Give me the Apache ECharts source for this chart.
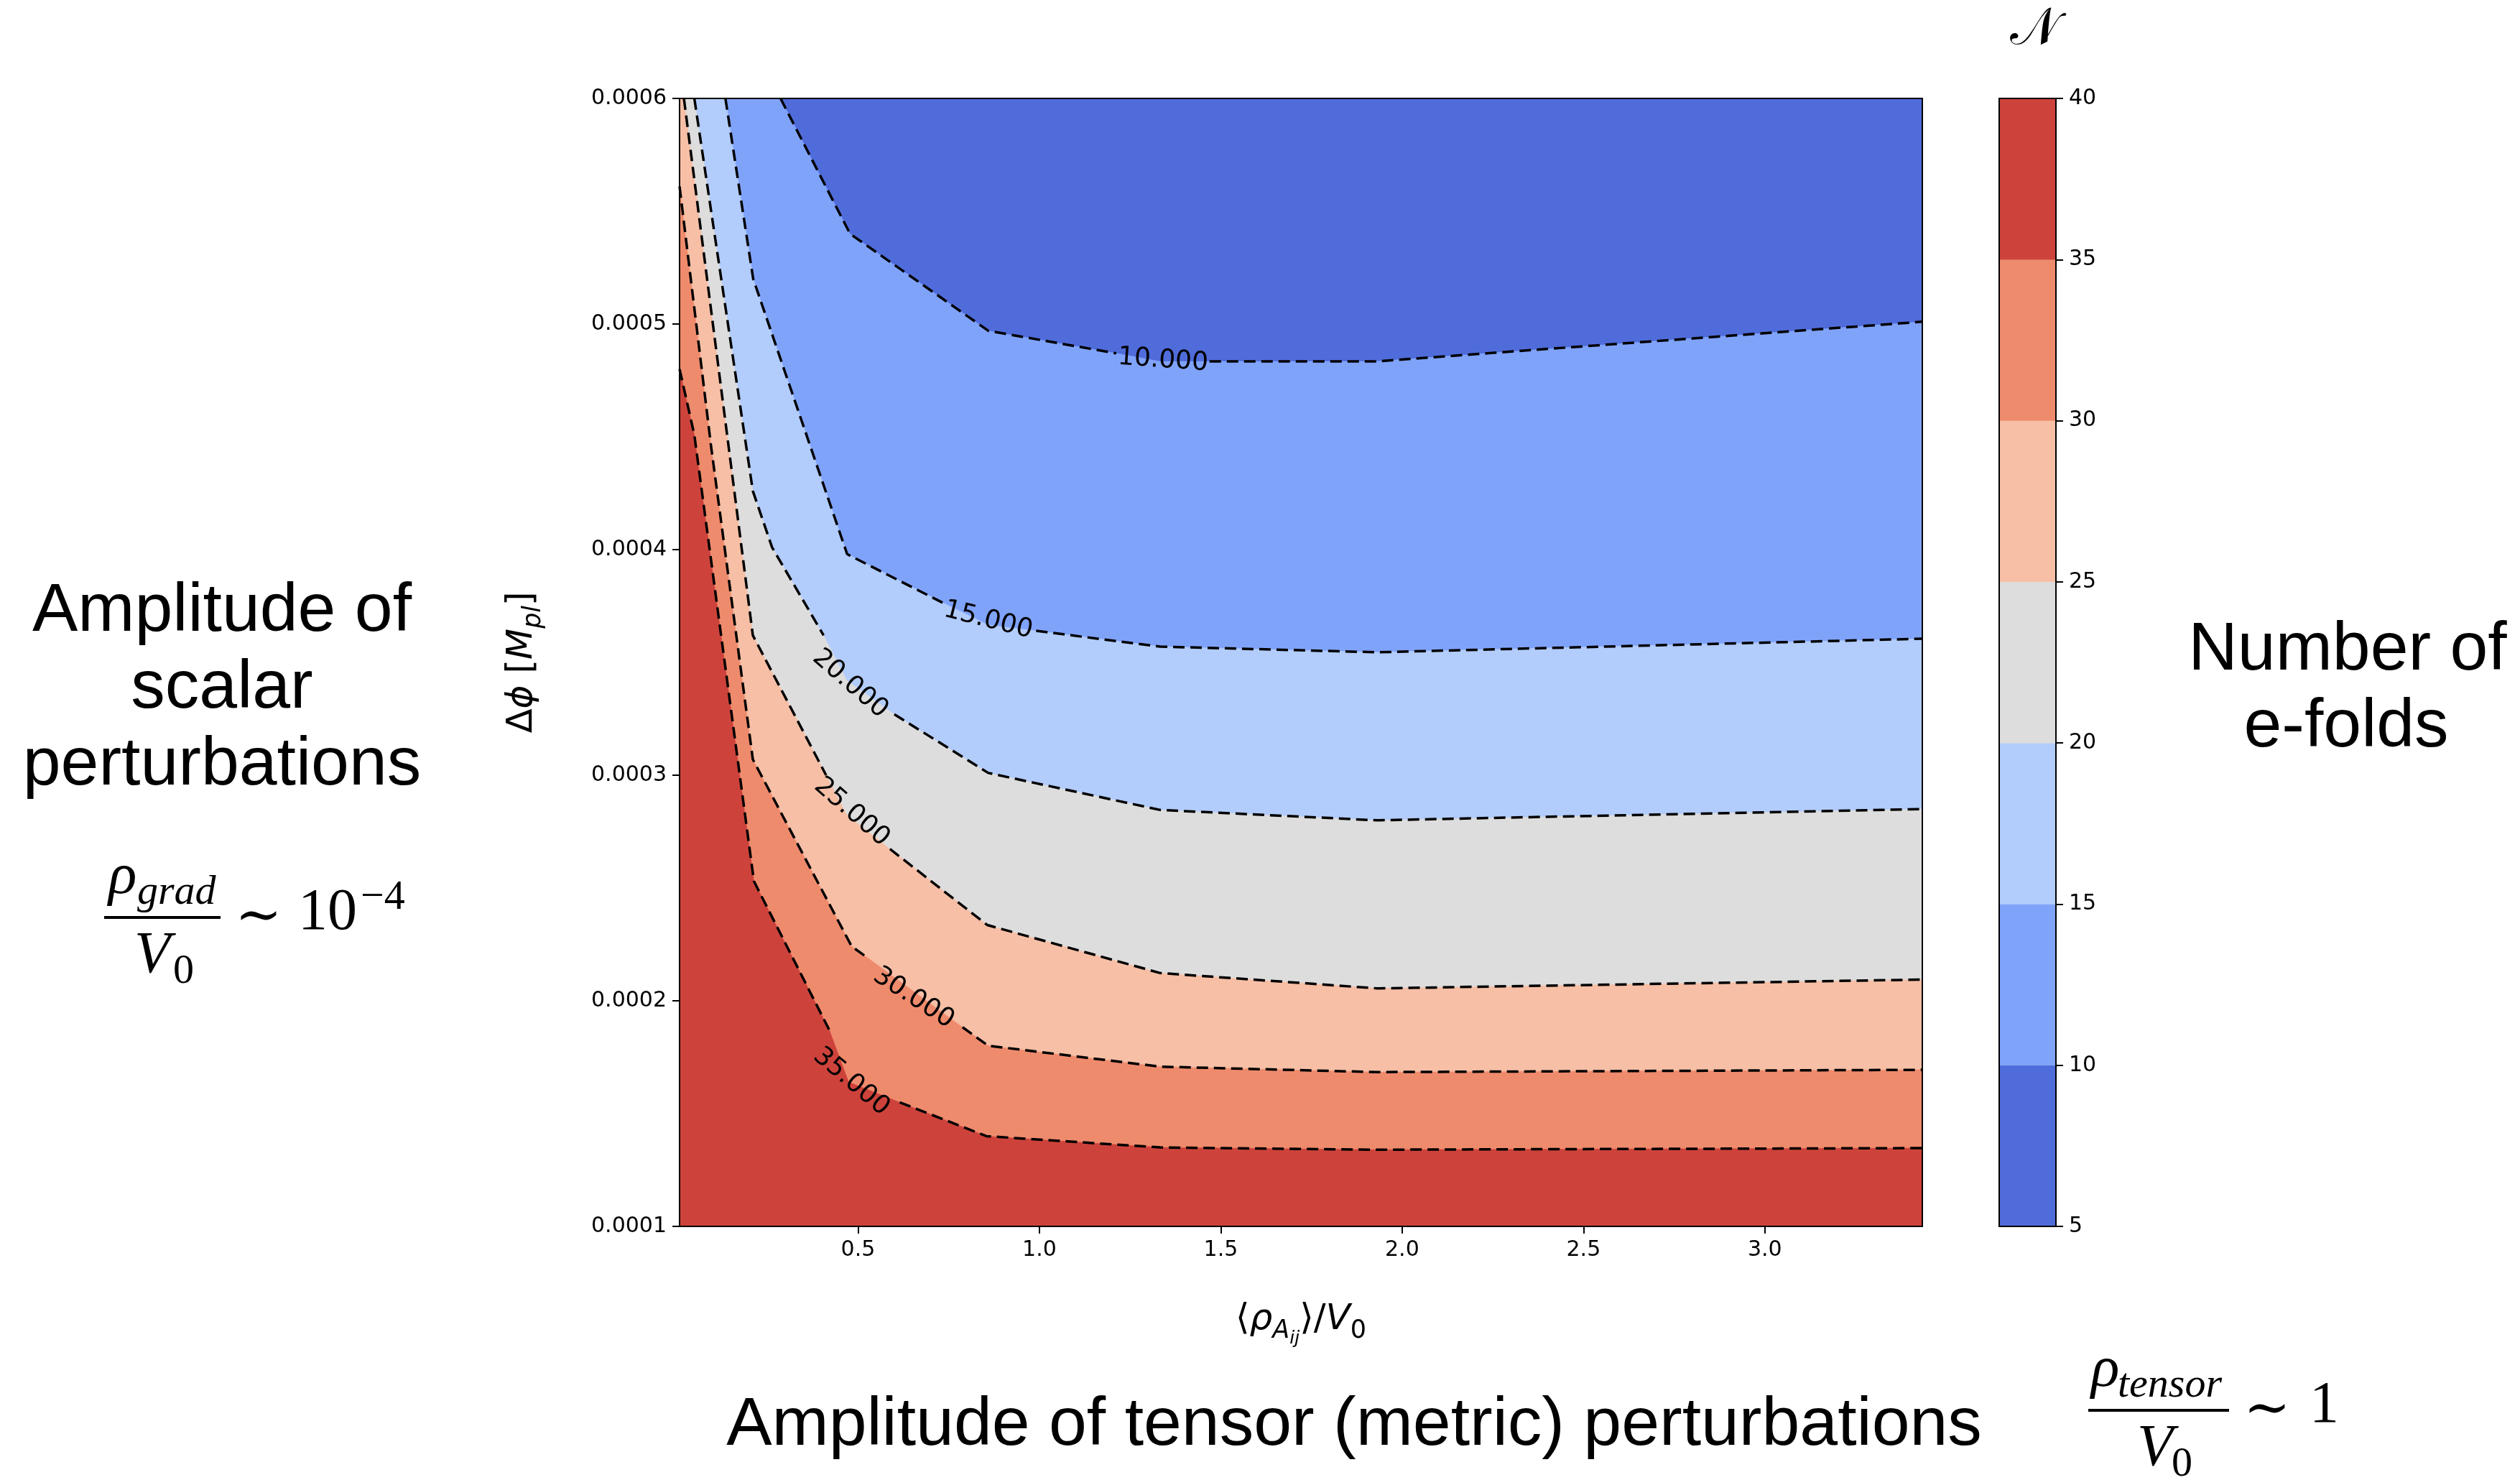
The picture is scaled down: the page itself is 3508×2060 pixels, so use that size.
<!DOCTYPE html>
<html><head><meta charset="utf-8">
<script src="https://cdn.jsdelivr.net/npm/echarts@6/dist/echarts.min.js"></script>
<style>html,body{margin:0;padding:0;background:#fff}#c{width:3508px;height:2060px}</style>
</head><body><div id="c"></div>
<script>
// ---------------- data ----------------
const X_RANGE = [0.008, 3.434];
const Y_RANGE = [0.0001, 0.0006];
const xTicks = [0.5, 1.0, 1.5, 2.0, 2.5, 3.0];
const yTicks = [0.0001, 0.0002, 0.0003, 0.0004, 0.0005, 0.0006];
const levels = [5, 10, 15, 20, 25, 30, 35, 40];
const colorbarTicks = [5, 10, 15, 20, 25, 30, 35, 40];
const bandColors = ['#506cda', '#80a3fa', '#b2ccfb', '#dddddd', '#f6bfa6', '#ef8b6d', '#cd433b'];

// contour polylines [x, Δφ]; null = gap in the dashed line under an inline label
const contour10 = [[0.2864,0.0006],[0.478,0.000540],[0.859,0.000497],[1.212,0.000487],null,[1.333,0.0004834],null,[1.469,0.0004834],[1.924,0.0004834],[3.434,0.000501]];
const contour15 = [[0.1344,0.0006],[0.211,0.000520],[0.470,0.000398],[0.739,0.000376],null,[0.859,0.0003666],null,[0.991,0.000364],[1.333,0.000357],[1.932,0.0003545],[3.434,0.0003605]];
const contour20 = [[0.0487,0.0006],[0.210,0.000426],[0.263,0.000401],[0.405,0.000362],null,[0.469,0.000342],null,[0.600,0.000327],[0.859,0.000301],[1.333,0.0002846],[1.932,0.000280],[3.434,0.000285]];
const contour25 = [[0.0200,0.0006],[0.210,0.000362],[0.412,0.000300],null,[0.469,0.0002824],null,[0.588,0.0002673],[0.856,0.0002336],[1.333,0.0002123],[1.932,0.0002055],[3.434,0.0002094]];
const contour30 = [[0.008,0.000561],[0.0947,0.000446],[0.210,0.000307],[0.4826,0.0002241],[0.527,0.000219],null,[0.788,0.0001883],[0.8585,0.0001801],[1.333,0.0001708],[1.932,0.0001684],[3.434,0.0001694]];
const contour35 = [[0.008,0.000480],[0.0486,0.000451],[0.213,0.000253],[0.421,0.000187],null,[0.474,0.000164],null,[0.615,0.000155],[0.854,0.000140],[1.333,0.000135],[1.932,0.000134],[3.434,0.0001347]];

const contourLabels = ['10.000', '15.000', '20.000', '25.000', '30.000', '35.000'];
const labelX = [1.3405, 0.8587, 0.478, 0.4826, 0.653, 0.4812];
const labelY = [0.00048382, 0.00036863, 0.00034048, 0.00028363, 0.00020121, 0.00016411];

// ---------------- styling ----------------
const labelRotDeg = [-4, -14, -41, -41, -33, -40];
const FONT = 'DejaVu Sans';
const SANS = 'Liberation Sans';
const SERIF = 'Liberation Serif';
const contours = [contour10, contour15, contour20, contour25, contour30, contour35];

const chart = echarts.init(document.getElementById('c'), null, {renderer: 'canvas', width: 3508, height: 2060});

function lineData(c) { return c.map(p => p ? p : ['-', '-']); }

const series = [];
// filled bands
series.push({
  type: 'custom', xAxisIndex: 0, yAxisIndex: 0, clip: true, z: 1, silent: true,
  data: bandColors.map((c, i) => [X_RANGE[0], Y_RANGE[0], i]),
  encode: {x: 0, y: 1},
  renderItem(params, api) {
    const i = api.value(2);
    let pts;
    if (i === 0) {
      pts = [[X_RANGE[0], Y_RANGE[1]], [X_RANGE[1], Y_RANGE[1]], [X_RANGE[1], Y_RANGE[0]], [X_RANGE[0], Y_RANGE[0]]];
    } else {
      const c = contours[i - 1].filter(p => p);
      pts = [[X_RANGE[0], c[0][1]]].concat(c, [[X_RANGE[1], Y_RANGE[0]], [X_RANGE[0], Y_RANGE[0]]]);
    }
    return {type: 'polygon', shape: {points: pts.map(p => api.coord(p))}, style: {fill: bandColors[i], stroke: bandColors[i], lineWidth: 0.5}};
  }
});
// dashed contour lines
contours.forEach(c => series.push({
  type: 'line', xAxisIndex: 0, yAxisIndex: 0, data: lineData(c), showSymbol: false, symbol: 'none',
  connectNulls: false, z: 3, silent: true, clip: true,
  lineStyle: {color: '#000', width: 3.5, type: [16, 8]}
}));
// inline contour labels
series.push({
  type: 'custom', xAxisIndex: 0, yAxisIndex: 0, z: 4, silent: true,
  data: contourLabels.map((t, i) => [labelX[i], labelY[i], i]),
  encode: {x: 0, y: 1},
  renderItem(params, api) {
    const i = api.value(2);
    const p = api.coord([api.value(0), api.value(1)]);
    return {type: 'text', x: p[0], y: p[1], rotation: labelRotDeg[i] * Math.PI / 180,
      style: {text: contourLabels[i], fontSize: 36, fontFamily: FONT, fill: '#000',
        align: 'center', verticalAlign: 'middle', textAlign: 'center', textVerticalAlign: 'middle'}};
  }
});
// colorbar
series.push({
  type: 'custom', xAxisIndex: 2, yAxisIndex: 2, z: 1, silent: true,
  data: bandColors.map((c, i) => [0, levels[i], i]),
  encode: {x: 0, y: 1},
  renderItem(params, api) {
    const i = api.value(2);
    const a = api.coord([0, levels[i + 1]]);
    const b = api.coord([1, levels[i]]);
    return {type: 'rect', shape: {x: a[0], y: a[1], width: b[0] - a[0], height: b[1] - a[1]},
      style: {fill: bandColors[i], stroke: bandColors[i], lineWidth: 0.5}};
  }
});

const blackLine = {show: true, onZero: false, lineStyle: {color: '#000', width: 2}};
const tickStyle = {color: '#000', width: 2};
const hiddenAxisBits = {axisTick: {show: false}, axisLabel: {show: false}, splitLine: {show: false}};

const richBase = {
  n: {fontSize: 50, fontFamily: FONT, color: '#000'},
  i: {fontSize: 50, fontFamily: FONT, fontStyle: 'italic', color: '#000'},
  s: {fontSize: 35, fontFamily: FONT, fontStyle: 'italic', color: '#000', padding: [30, 0, 0, 0]},
  ss: {fontSize: 25, fontFamily: FONT, fontStyle: 'italic', color: '#000', padding: [52, 0, 0, 0]},
  s0: {fontSize: 35, fontFamily: FONT, color: '#000', padding: [30, 0, 0, 0]}
};

function txt(text, x, y, size, family, extra) {
  return {type: 'text', x: x, y: y, silent: true, z: 100,
    style: Object.assign({text: text, fontSize: size, fontFamily: family, fill: '#000',
      align: 'center', verticalAlign: 'middle', textAlign: 'center', textVerticalAlign: 'middle'}, extra || {})};
}
function ltxt(text, x, baseline, size, family, italic) {
  return txt(text, x, baseline - 0.34 * size, size, family,
    {align: 'left', textAlign: 'left', fontStyle: italic ? 'italic' : 'normal'});
}
function bar(x, y, w) {
  return {type: 'rect', silent: true, z: 100, shape: {x: x, y: y - 2, width: w, height: 4}, style: {fill: '#000'}};
}
const FS = 82, SS = 58;
function formula(B, x) {
  return [
    ltxt('ρ', x[0], B - 28, FS, SERIF, true),
    ltxt(x[9], x[1], B - 15, SS, SERIF, true),
    bar(x[2], B, x[3]),
    ltxt('V', x[4], B + 82, FS, SERIF, true),
    ltxt('0', x[5], B + 95, SS, SERIF, false),
    txt('∼', x[6], B + 2, 78, 'DejaVu Serif'),
    ltxt(x[10], x[7], B + 22, FS, SERIF, false)
  ].concat(x[11] ? [ltxt(x[11], x[8], B - 8, SS, SERIF, false)] : []);
}

const graphics = [
  txt('Amplitude of', 309, 852, 95, SANS),
  txt('scalar', 309, 959, 95, SANS),
  txt('perturbations', 309, 1066, 95, SANS),
  txt('Number of', 3268, 906, 95, SANS),
  txt('e-folds', 3266, 1013, 95, SANS),
  txt('Amplitude of tensor (metric) perturbations', 1885, 1985, 95, SANS),
  txt('𝒩', 2832, 42, 72, 'DejaVu Sans')
].concat(
  formula(1277, [151, 191, 145, 162, 187, 241, 360, 415, 502, 'grad', '10', '−4']),
  formula(1963, [2911, 2948, 2907, 196, 2975, 3023, 3156, 3215, 0, 'tensor', '1', null])
);

const option = {
  animation: false,
  backgroundColor: '#fff',
  grid: [
    {left: 946, top: 137, width: 1730, height: 1570, containLabel: false},
    {left: 2783, top: 137, width: 79, height: 1570, containLabel: false}
  ],
  xAxis: [
    {gridIndex: 0, type: 'value', position: 'bottom', min: X_RANGE[0], max: X_RANGE[1], z: 10,
      axisLine: blackLine,
      axisTick: {show: true, customValues: xTicks, length: 10, lineStyle: tickStyle},
      axisLabel: {customValues: xTicks, formatter: v => v.toFixed(1), fontSize: 30, fontFamily: FONT, color: '#000', margin: 18},
      splitLine: {show: false},
      name: '{n|⟨}{i|ρ}{s|A}{ss|ij}{n|⟩/}{i|V}{s0|0}', nameLocation: 'middle', nameGap: 92,
      nameTextStyle: {fontFamily: FONT, fontSize: 50, color: '#000', rich: richBase}},
    Object.assign({gridIndex: 0, type: 'value', position: 'top', min: X_RANGE[0], max: X_RANGE[1], z: 10, axisLine: blackLine}, hiddenAxisBits),
    Object.assign({gridIndex: 1, type: 'value', position: 'bottom', min: 0, max: 1, z: 10, axisLine: blackLine}, hiddenAxisBits),
    Object.assign({gridIndex: 1, type: 'value', position: 'top', min: 0, max: 1, z: 10, axisLine: blackLine}, hiddenAxisBits)
  ],
  yAxis: [
    {gridIndex: 0, type: 'value', position: 'left', min: Y_RANGE[0], max: Y_RANGE[1], z: 10,
      axisLine: blackLine,
      axisTick: {show: true, customValues: yTicks, length: 10, lineStyle: tickStyle},
      axisLabel: {customValues: yTicks, formatter: v => v.toFixed(4), fontSize: 30, fontFamily: FONT, color: '#000', margin: 18},
      splitLine: {show: false},
      name: '{n|Δ}{i|ϕ}{n| [}{i|M}{s|pl}{n|]}', nameLocation: 'middle', nameGap: 186, nameRotate: 90,
      nameTextStyle: {fontFamily: FONT, fontSize: 50, color: '#000', rich: richBase}},
    Object.assign({gridIndex: 0, type: 'value', position: 'right', min: Y_RANGE[0], max: Y_RANGE[1], z: 10, axisLine: blackLine}, hiddenAxisBits),
    {gridIndex: 1, type: 'value', position: 'right', min: 5, max: 40, z: 10,
      axisLine: blackLine,
      axisTick: {show: true, customValues: colorbarTicks, length: 10, lineStyle: tickStyle},
      axisLabel: {customValues: colorbarTicks, fontSize: 30, fontFamily: FONT, color: '#000', margin: 18},
      splitLine: {show: false}},
    Object.assign({gridIndex: 1, type: 'value', position: 'left', min: 5, max: 40, z: 10, axisLine: blackLine}, hiddenAxisBits)
  ],
  series: series,
  graphic: {elements: graphics}
};
chart.setOption(option);
</script>
</body></html>
